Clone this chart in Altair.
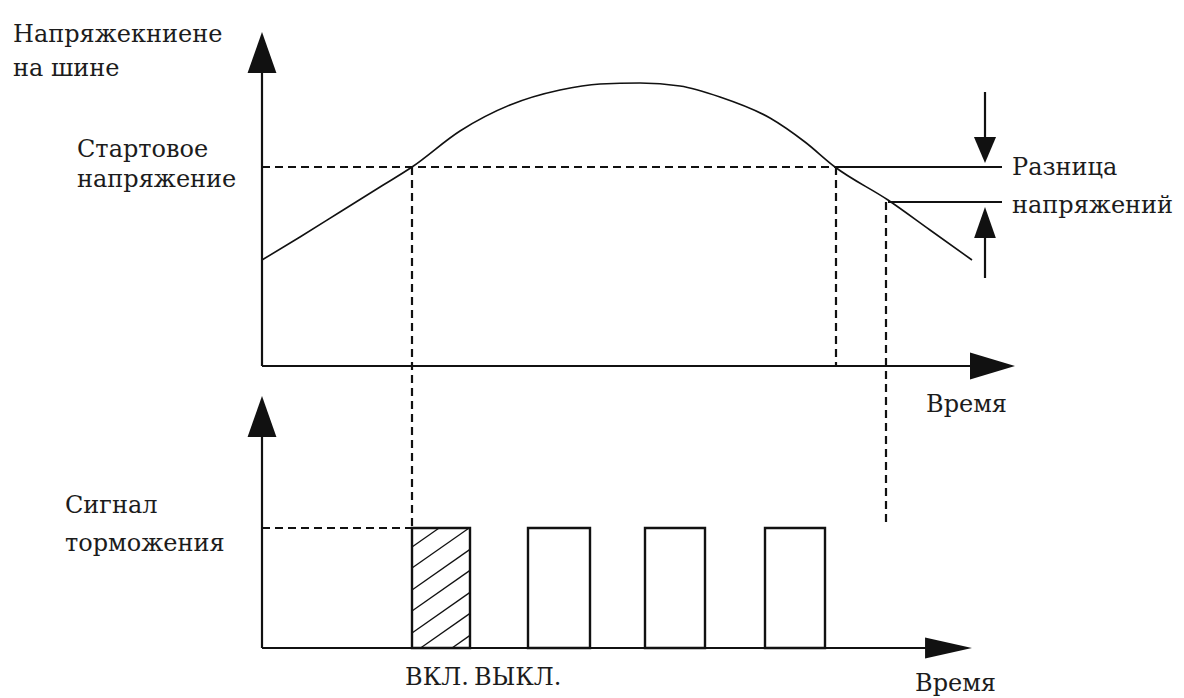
import altair as alt
import pandas as pd

# ---------------- data (diagram units: t to the right, u downward) ----------------
# bus voltage curve
curve_t = [262, 300, 340, 380, 412, 460, 510, 560, 600, 640, 680, 720, 770, 805, 835, 888, 930, 972]
curve_u = [260, 237, 212, 187, 167, 131, 105, 90, 84, 83, 86, 97, 118, 142, 167, 200, 230, 260]

# braking signal pulses
pulse_start = [412, 528, 645, 765]
pulse_end = [470, 590, 705, 825]
pulse_low = 648
pulse_high = 528

# hatch lines of the first pulse (left-edge intercepts, slope)
hatch_b = [547, 568, 590, 611, 633, 654, 676]
hatch_slope = 0.7

# levels / markers
start_level = 167
stop_level = 202
t_on = 412
t_cross = 836
t_stop = 886
axis_t0 = 262
axis_top_u0 = 366
axis_bot_u0 = 648
diff_t = 985

# solid segments: t, u, t2, u2
solid_t = [axis_t0, axis_t0, axis_t0, axis_t0, 835, 888, diff_t, diff_t]
solid_u = [axis_top_u0, axis_top_u0, axis_bot_u0, axis_bot_u0, start_level, stop_level, 92, 278]
solid_t2 = [axis_t0, 1000, axis_t0, 960, 1002, 1002, diff_t, diff_t]
solid_u2 = [45, axis_top_u0, 425, axis_bot_u0, start_level, stop_level, 145, 230]

# dashed segments
dash_t = [axis_t0, t_on, t_cross, t_stop, axis_t0]
dash_u = [start_level, start_level, start_level, stop_level, pulse_high]
dash_t2 = [t_cross, t_on, t_cross, t_stop, t_on]
dash_u2 = [start_level, pulse_high, axis_top_u0, 527, pulse_high]

# arrowheads
up_big_t = [axis_t0, axis_t0]
up_big_u = [52.5, 416.5]
right_top_t = [992.5]
right_top_u = [axis_top_u0]
right_bot_t = [948.5]
right_bot_u = [axis_bot_u0]
down_small_t = [diff_t]
down_small_u = [150]
up_small_t = [diff_t]
up_small_u = [222.5]

# text labels
labels = ["Напряжекниене", "на шине", "Стартовое", "напряжение", "Разница", "напряжений",
          "Время", "Сигнал", "торможения", "ВКЛ.", "ВЫКЛ.", "Время"]
label_t = [13, 13, 77, 77, 1012, 1012, 926, 65, 65, 405, 474, 915]
label_u = [42, 76, 157, 187, 175, 213, 412, 513, 551, 685, 685, 691]

# ---------------- build tables ----------------
xs = alt.Scale(domain=[8, 1176], nice=False, zero=False)
ys = alt.Scale(domain=[8, 690], nice=False, zero=False, reverse=True)
X = lambda f: alt.X(f, type="quantitative", scale=xs, axis=None)
Y = lambda f: alt.Y(f, type="quantitative", scale=ys, axis=None)

curve_df = pd.DataFrame({"t": curve_t, "u": curve_u, "i": range(len(curve_t))})
solid_df = pd.DataFrame({"t": solid_t, "u": solid_u, "t2": solid_t2, "u2": solid_u2})
dash_df = pd.DataFrame({"t": dash_t, "u": dash_u, "t2": dash_t2, "u2": dash_u2})
pulse_df = pd.DataFrame({"t": pulse_start, "t2": pulse_end,
                         "u": [pulse_high] * 4, "u2": [pulse_low] * 4})

x0, x1 = pulse_start[0], pulse_end[0]
hrows = []
for b in hatch_b:
    ta = x0 if b <= pulse_low else x0 + (b - pulse_low) / hatch_slope
    ua = b - hatch_slope * (ta - x0)
    tb = x1 if b - hatch_slope * (x1 - x0) >= pulse_high else x0 + (b - pulse_high) / hatch_slope
    ub = b - hatch_slope * (tb - x0)
    hrows.append({"t": ta, "u": ua, "t2": tb, "u2": ub})
hatch_df = pd.DataFrame(hrows)

text_df = pd.DataFrame({"t": label_t, "u": label_u, "label": labels})

ink = "#111111"

curve = alt.Chart(curve_df).mark_line(color=ink, strokeWidth=1.6, interpolate="monotone").encode(
    x=X("t"), y=Y("u"), order="i:Q")

solid = alt.Chart(solid_df).mark_rule(color=ink, strokeWidth=2.2).encode(
    x=X("t"), y=Y("u"), x2="t2:Q", y2="u2:Q")

dashed = alt.Chart(dash_df).mark_rule(color=ink, strokeWidth=2.2, strokeDash=[8, 5]).encode(
    x=X("t"), y=Y("u"), x2="t2:Q", y2="u2:Q")

pulses = alt.Chart(pulse_df).mark_rect(fill="white", fillOpacity=0, stroke=ink, strokeWidth=2.4).encode(
    x=X("t"), x2="t2:Q", y=Y("u"), y2="u2:Q")

hatch = alt.Chart(hatch_df).mark_rule(color=ink, strokeWidth=1.3).encode(
    x=X("t"), y=Y("u"), x2="t2:Q", y2="u2:Q")


def heads(t, u, path, size):
    df = pd.DataFrame({"t": t, "u": u})
    return alt.Chart(df).mark_point(shape=path, size=size, filled=True, color=ink,
                                    opacity=1, strokeWidth=0).encode(x=X("t"), y=Y("u"))


arrows = [
    heads(up_big_t, up_big_u, "M0,-1L0.7,1L-0.7,1Z", 1700),
    heads(right_top_t, right_top_u, "M1,0L-1,-0.6L-1,0.6Z", 2025),
    heads(right_bot_t, right_bot_u, "M1,0L-1,-0.45L-1,0.45Z", 2200),
    heads(down_small_t, down_small_u, "M0,1L0.85,-1L-0.85,-1Z", 676),
    heads(up_small_t, up_small_u, "M0,-1L0.7,1L-0.7,1Z", 961),
]

texts = alt.Chart(text_df).mark_text(align="left", baseline="alphabetic", font="DejaVu Serif",
                                     fontSize=24, color="#1c1c1c").encode(
    x=X("t"), y=Y("u"), text="label:N")

chart = alt.layer(dashed, curve, solid, pulses, hatch, *arrows, texts).properties(
    width=1168, height=682,
    autosize=alt.AutoSizeParams(type="none"),
    padding={"left": 0, "top": 0, "right": 0, "bottom": 8},
    background="white",
).configure_view(stroke=None)

chart.save("out.html", embed_options={"renderer": "svg", "actions": False})
